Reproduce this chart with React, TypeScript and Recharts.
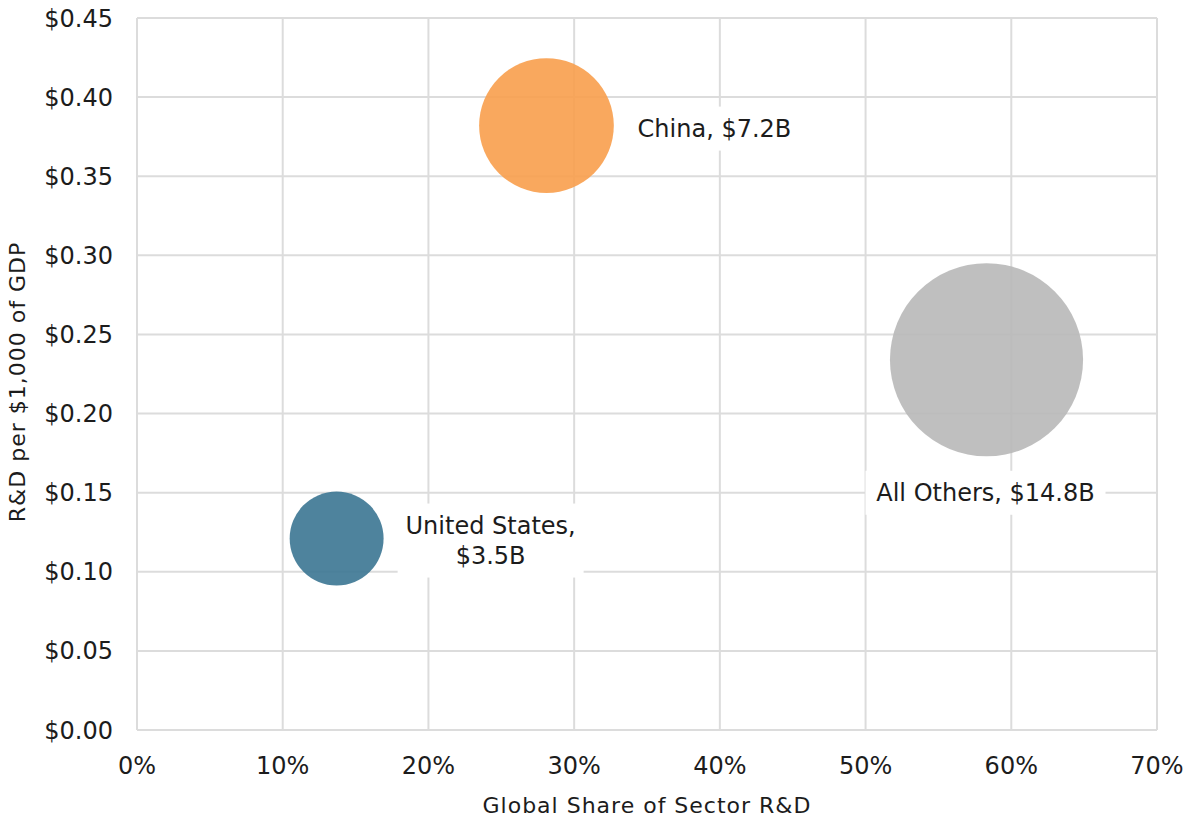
import { ScatterChart, Scatter, XAxis, YAxis, ZAxis, CartesianGrid, Label } from "recharts"

const regions = ["United States", "China", "All Others"]
const globalShare = [0.137, 0.281, 0.583]
const rdPerThousandGdp = [0.121, 0.382, 0.234]
const spendBillions = [3.5, 7.2, 14.8]

const xTicks = [0, 0.1, 0.2, 0.3, 0.4, 0.5, 0.6, 0.7]
const yTicks = [0, 0.05, 0.1, 0.15, 0.2, 0.25, 0.3, 0.35, 0.4, 0.45]

const data = regions.map((region, i) => ({
  region,
  share: globalShare[i],
  rd: rdPerThousandGdp[i],
  spend: spendBillions[i],
}))

const FONT = "'DejaVu Sans', sans-serif"
const TEXT = "#1c1c1c"
const GRID = "#dcdcdc"

const bubbleColors: Record<string, string> = {
  "United States": "#3b7592",
  China: "#f89e4c",
  "All Others": "#b8b8b8",
}

// where each bubble's caption sits, relative to the bubble centre
const labelLayout: Record<string, { dx: number; dy: number; boxWidth: number; split: boolean }> = {
  "United States": { dx: 154, dy: 2, boxWidth: 186, split: true },
  China: { dx: 168, dy: 3, boxWidth: 176, split: false },
  "All Others": { dx: -1, dy: 133, boxWidth: 240, split: false },
}

const LINE_HEIGHT = 30

function Bubble(props: any) {
  const { cx, cy, size, payload } = props
  const r = Math.sqrt(Math.max(size, 0) / Math.PI)
  const layout = labelLayout[payload.region]
  const lines = layout.split
    ? [`${payload.region},`, `$${payload.spend}B`]
    : [`${payload.region}, $${payload.spend}B`]
  const lx = cx + layout.dx
  const ly = cy + layout.dy
  const boxH = lines.length * LINE_HEIGHT + 14
  return (
    <g>
      <circle cx={cx} cy={cy} r={r} fill={bubbleColors[payload.region]} fillOpacity={0.9} />
      <rect x={lx - layout.boxWidth / 2} y={ly - boxH / 2} width={layout.boxWidth} height={boxH} fill="#ffffff" />
      {lines.map((line, i) => (
        <text
          key={i}
          x={lx}
          y={ly + (i - (lines.length - 1) / 2) * LINE_HEIGHT}
          textAnchor="middle"
          dominantBaseline="central"
          fontFamily={FONT}
          fontSize={24}
          fill={TEXT}
        >
          {line}
        </text>
      ))}
    </g>
  )
}

function YTitle({ viewBox }: any) {
  const x = viewBox.x + 25
  const y = viewBox.y + viewBox.height / 2 + 8
  return (
    <text
      x={x}
      y={y}
      transform={`rotate(-90, ${x}, ${y})`}
      textAnchor="middle"
      fontFamily={FONT}
      fontSize={22}
      letterSpacing={1}
      fill={TEXT}
    >
      R&amp;D per $1,000 of GDP
    </text>
  )
}

function XTitle({ viewBox }: any) {
  const x = viewBox.x + viewBox.width / 2
  const y = viewBox.y + 83
  return (
    <text x={x} y={y} textAnchor="middle" fontFamily={FONT} fontSize={22} letterSpacing={1} fill={TEXT}>
      Global Share of Sector R&amp;D
    </text>
  )
}

export default function App() {
  return (
    <div style={{ position: "absolute", left: 0, top: 0, background: "#fff" }}>
      <ScatterChart width={1186} height={819} margin={{ top: 18, right: 29, bottom: 0, left: 0 }}>
        <CartesianGrid stroke={GRID} strokeWidth={2} />
        <XAxis
          type="number"
          dataKey="share"
          domain={[0, 0.7]}
          ticks={xTicks}
          tickFormatter={(v) => `${Math.round(v * 100)}%`}
          height={89}
          tickLine={false}
          tickSize={0}
          tickMargin={27}
          axisLine={{ stroke: GRID, strokeWidth: 2 }}
          tick={{ fill: TEXT, fontSize: 24, fontFamily: FONT }}
          interval={0}
        >
          <Label content={XTitle} />
        </XAxis>
        <YAxis
          type="number"
          dataKey="rd"
          domain={[0, 0.45]}
          ticks={yTicks}
          tickFormatter={(v) => `$${v.toFixed(2)}`}
          width={137}
          tickLine={false}
          tickSize={0}
          tickMargin={24}
          axisLine={{ stroke: GRID, strokeWidth: 2 }}
          tick={{ fill: TEXT, fontSize: 24, fontFamily: FONT }}
          interval={0}
        >
          <Label content={YTitle} />
        </YAxis>
        <ZAxis type="number" dataKey="spend" domain={[0, 15]} range={[0, 29690]} />
        <Scatter data={data} shape={(p: any) => <Bubble {...p} />} isAnimationActive={false} />
      </ScatterChart>
    </div>
  )
}
